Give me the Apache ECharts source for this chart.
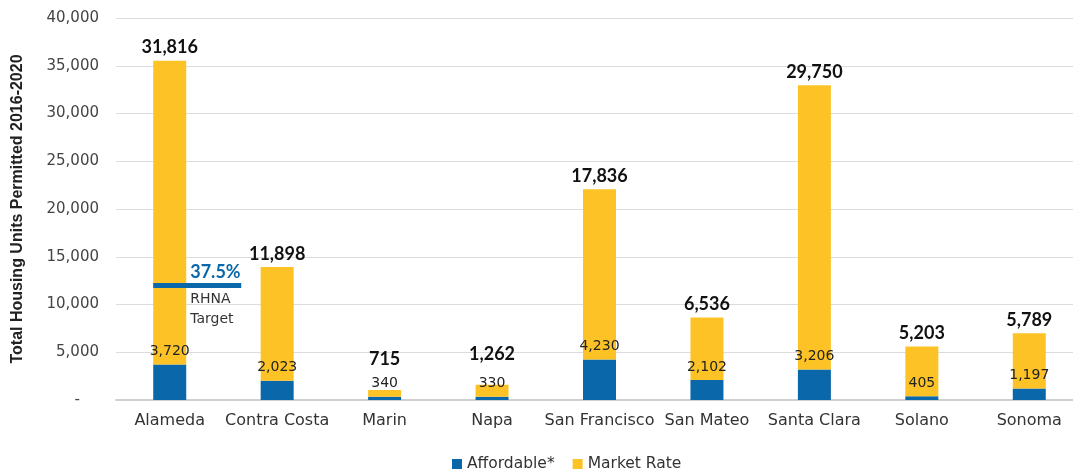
<!DOCTYPE html>
<html>
<head>
<meta charset="utf-8">
<script src="https://cdn.jsdelivr.net/npm/echarts@6/dist/echarts.min.js"></script>
<style>
  html, body { margin: 0; padding: 0; background: #fff; }
  #chart { width: 1073px; height: 472px; }
</style>
</head>
<body>
<div id="chart"></div>
<script>
// counties and permits 2016-2020
const counties = ['Alameda', 'Contra Costa', 'Marin', 'Napa', 'San Francisco', 'San Mateo', 'Santa Clara', 'Solano', 'Sonoma']
const affordable = [3720, 2023, 340, 330, 4230, 2102, 3206, 405, 1197]
const marketRate = [31816, 11898, 715, 1262, 17836, 6536, 29750, 5203, 5789]
// RHNA target marker (Alameda)
const rhnaTarget = [['Alameda', 12000]]
const rhnaLabel = '37.5%'

const blue = '#0a68aa'
const yellow = '#fdc326'
const thinFont = 'DejaVu Sans, sans-serif'
const fmt = v => v.toLocaleString('en-US')

const chart = echarts.init(document.getElementById('chart'))

// short bars: push the total label up so it clears the affordable label
const marketItems = marketRate.map((v, i) => ({
  value: v,
  label: { distance: v + affordable[i] < 2000 ? 22 : 4 }
}))

const option = {
  animation: false,
  textStyle: { fontFamily: thinFont },
  grid: { left: 116, width: 967, top: 18, bottom: 72, outerBoundsMode: 'none' },
  legend: {
    top: 451,
    left: 447,
    itemWidth: 10,
    itemHeight: 10,
    itemGap: 18,
    icon: 'rect',
    textStyle: { fontSize: 15.5, color: '#333', fontFamily: thinFont },
    data: ['Affordable*', 'Market Rate']
  },
  xAxis: {
    type: 'category',
    data: counties,
    axisTick: { show: false },
    axisLine: { lineStyle: { color: '#d0d0d0', width: 2 } },
    axisLabel: { fontSize: 16, color: '#333', margin: 13, interval: 0 }
  },
  yAxis: {
    type: 'value',
    min: 0,
    max: 40000,
    interval: 5000,
    name: 'Total Housing Units Permitted 2016-2020',
    nameLocation: 'middle',
    nameGap: 90,
    nameTextStyle: { fontSize: 16, fontWeight: 'bold', color: '#222', fontFamily: 'Liberation Sans, Arial, sans-serif' },
    axisLine: { show: false },
    axisTick: { show: false },
    splitLine: { lineStyle: { color: '#dcdcdc', width: 1 } },
    axisLabel: {
      fontSize: 15,
      color: '#444',
      margin: 17,
      formatter: v => (v === 0 ? '-    ' : fmt(v))
    }
  },
  series: [
    {
      name: 'Affordable*',
      type: 'bar',
      stack: 'total',
      barWidth: 33,
      data: affordable,
      itemStyle: { color: blue },
      label: {
        show: true,
        position: 'top',
        distance: 6,
        fontSize: 14,
        color: '#222',
        formatter: p => fmt(p.value)
      }
    },
    {
      name: 'Market Rate',
      type: 'bar',
      stack: 'total',
      barWidth: 33,
      data: marketItems,
      itemStyle: { color: yellow },
      label: {
        show: true,
        position: 'top',
        fontSize: 18,
        fontWeight: 'bold',
        color: '#111',
        fontFamily: 'Lato, sans-serif',
        formatter: p => fmt(p.value)
      }
    },
    {
      name: 'RHNA',
      type: 'custom',
      data: rhnaTarget,
      z: 10,
      renderItem: (params, api) => {
        const pt = api.coord([api.value(0), api.value(1)])
        const x0 = pt[0] - 16.5
        return {
          type: 'group',
          children: [
            { type: 'rect', shape: { x: x0, y: pt[1] - 2.5, width: 88, height: 5 }, style: { fill: blue } },
            { type: 'text', style: { x: x0 + 37, y: pt[1] - 4, text: rhnaLabel, fill: blue, font: 'bold 18px Lato, sans-serif', textVerticalAlign: 'bottom' } },
            { type: 'text', style: { x: x0 + 37, y: pt[1] + 4, text: 'RHNA\nTarget', fill: '#333', font: '14px DejaVu Sans, sans-serif', lineHeight: 20 } }
          ]
        }
      }
    }
  ]
}

chart.setOption(option)
</script>
</body>
</html>
